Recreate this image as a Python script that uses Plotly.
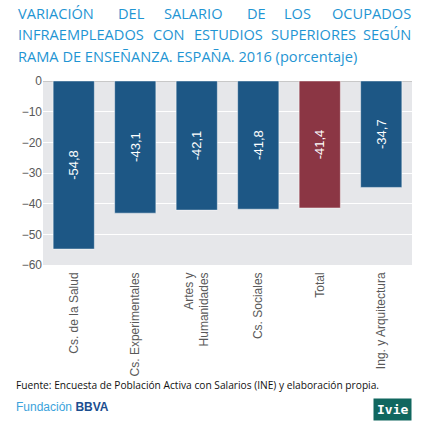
import plotly.graph_objects as go

categories = ["Cs. de la Salud", "Cs. Experimentales", "Artes y<br>Humanidades",
              "Cs. Sociales", "Total", "Ing. y Arquitectura"]
values = [-54.8, -43.1, -42.1, -41.8, -41.4, -34.7]
bar_colors = ["#1D5785", "#1D5785", "#1D5785", "#1D5785", "#8B3644", "#1D5785"]
ytick_vals = [0, -10, -20, -30, -40, -50, -60]

labels = [f"{v:.1f}".replace(".", ",") for v in values]

W, H = 424, 441
ML, MR, MT, MB = 43, 12, 81, 176


def px_x(x):
    # page pixel -> paper coordinate
    return (x - ML) / (W - ML - MR)


def px_y(y):
    return (H - MB - y) / (H - MT - MB)


fig = go.Figure(go.Bar(
    x=categories,
    y=values,
    marker=dict(color=bar_colors, line=dict(color="rgba(255,255,255,0.45)", width=1)),
    text=labels,
    textposition="inside",
    insidetextanchor="middle",
    textangle=-90,
    textfont=dict(family="Liberation Sans, Arial", size=13, color="white"),
    width=0.67,
))

# justified title, word by word
title_font = dict(family="Open Sans", size=14.6, color="#1F95D3")
line1 = [("VARIACIÓN", 16), ("DEL", 116), ("SALARIO", 162), ("DE", 245), ("LOS", 282), ("OCUPADOS", 413)]
line2 = [("INFRAEMPLEADOS", 16), ("CON", 151), ("ESTUDIOS", 192), ("SUPERIORES", 269), ("SEGÚN", 413)]
annos = []
for words, y in [(line1, 13), (line2, 34.5)]:
    for i, (w, x) in enumerate(words):
        last = i == len(words) - 1
        annos.append(dict(text=w, x=px_x(x), y=px_y(y), xref="paper", yref="paper",
                          xanchor="right" if last else "left", yanchor="middle",
                          showarrow=False, font=title_font))
annos.append(dict(text="RAMA DE ENSEÑANZA. ESPAÑA. 2016 (porcentaje)", x=px_x(16), y=px_y(55.5),
                  xref="paper", yref="paper", xanchor="left", yanchor="middle",
                  showarrow=False, font=title_font))
annos.append(dict(text="Fuente: Encuesta de Población Activa con Salarios (INE) y elaboración propia.",
                  x=px_x(14), y=px_y(385), xref="paper", yref="paper", xanchor="left",
                  yanchor="middle", showarrow=False,
                  font=dict(family="Open Sans", size=10.2, color="#111111")))
annos.append(dict(text="<span style='color:#3BA3DC'>Fundación</span> <b style='color:#1B4E8F'>BBVA</b>",
                  x=px_x(14), y=px_y(407), xref="paper", yref="paper", xanchor="left",
                  yanchor="middle", showarrow=False,
                  font=dict(family="Liberation Sans", size=12)))
annos.append(dict(text="<b>Ivie</b>", x=px_x(412), y=px_y(409), xref="paper", yref="paper",
                  xanchor="right", yanchor="middle", showarrow=False, bgcolor="#10675F",
                  borderpad=3, font=dict(family="DejaVu Sans Mono", size=13, color="white")))

fig.update_layout(
    width=W, height=H,
    margin=dict(l=ML, r=MR, t=MT, b=MB),
    plot_bgcolor="#E6E7EA",
    paper_bgcolor="white",
    showlegend=False,
    annotations=annos,
    font=dict(family="Liberation Sans, Arial", size=12, color="#595959"),
)
fig.update_yaxes(range=[-60, 0], tickvals=ytick_vals, gridcolor="white", gridwidth=1,
                 zeroline=True, zerolinecolor="#C8C8C8", zerolinewidth=1,
                 ticks="", tickfont=dict(size=12, color="#595959"))
fig.update_xaxes(tickangle=-90, tickfont=dict(size=12, color="#595959"), ticks="",
                 ticklabelstandoff=4)

# drop the default body margin so the figure fills the window exactly
fig.write_html("out.html", config={"displayModeBar": False},
               post_script="document.body.style.margin='0';")
